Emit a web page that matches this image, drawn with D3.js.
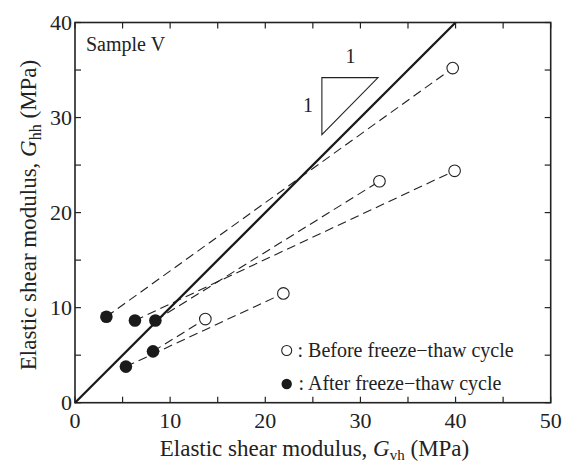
<!DOCTYPE html>
<html>
<head>
<meta charset="utf-8">
<script src="https://cdn.jsdelivr.net/npm/d3@7"></script>
<style>
  html, body { margin: 0; padding: 0; background: #fff; }
  svg { display: block; font-family: "Liberation Serif", "Times New Roman", serif; }
</style>
</head>
<body>
<svg id="chart" width="563" height="462"></svg>
<script>
// ---- data ----
const xTicks = [0, 10, 20, 30, 40, 50];
const yTicks = [0, 10, 20, 30, 40];
const minorStep = 5;
// Before freeze-thaw (open circles)
const beforeX = [39.7, 32.0, 39.9, 21.9, 13.7];
const beforeY = [35.2, 23.3, 24.4, 11.5, 8.8];
// After freeze-thaw (filled circles), paired by index with "before"
const afterX = [3.3, 8.45, 6.3, 5.35, 8.2];
const afterY = [9.05, 8.65, 8.65, 3.8, 5.4];
// 1:1 line
const refX = [0, 40];
const refY = [0, 40];
// slope triangle
const triX = [25.95, 31.85, 25.95];
const triY = [34.2, 34.2, 28.2];
const legendLabels = [": Before freeze\u2212thaw cycle", ": After freeze\u2212thaw cycle"];

// ---- layout ----
const svg = d3.select("#chart");
const x = d3.scaleLinear().domain([0, 50]).range([75, 550.7]);
const y = d3.scaleLinear().domain([0, 40]).range([402.7, 22.5]);
const [x0, x1] = x.range();
const [y0, y1] = y.range();

const minorX = d3.range(0, 50 + 0.001, minorStep);
const minorY = d3.range(0, 40 + 0.001, minorStep);
const tickLen = 6;

// ticks (inward) on all 4 sides
const g = svg.append("g").attr("stroke", "#222").attr("stroke-width", 1.2);
minorX.forEach(v => {
  g.append("line").attr("x1", x(v)).attr("x2", x(v)).attr("y1", y0).attr("y2", y0 - tickLen);
  g.append("line").attr("x1", x(v)).attr("x2", x(v)).attr("y1", y1).attr("y2", y1 + tickLen);
});
minorY.forEach(v => {
  g.append("line").attr("y1", y(v)).attr("y2", y(v)).attr("x1", x0).attr("x2", x0 + tickLen);
  g.append("line").attr("y1", y(v)).attr("y2", y(v)).attr("x1", x1).attr("x2", x1 - tickLen);
});

// frame
svg.append("rect").attr("x", x0).attr("y", y1).attr("width", x1 - x0).attr("height", y0 - y1)
  .attr("fill", "none").attr("stroke", "#222").attr("stroke-width", 1.6);

// tick labels
svg.append("g").selectAll("text").data(xTicks).join("text")
  .attr("x", d => x(d)).attr("y", 428).attr("text-anchor", "middle")
  .attr("font-size", 22).attr("fill", "#222").text(d => d);
svg.append("g").selectAll("text").data(yTicks).join("text")
  .attr("x", x0 - 3).attr("y", d => y(d)).attr("dy", "0.35em").attr("text-anchor", "end")
  .attr("font-size", 22).attr("fill", "#222").text(d => d);

// axis titles
const xt = svg.append("text").attr("x", 314.5).attr("y", 456).attr("text-anchor", "middle")
  .attr("font-size", 23).attr("fill", "#222");
xt.append("tspan").text("Elastic shear modulus, ");
xt.append("tspan").attr("font-style", "italic").text("G");
xt.append("tspan").attr("font-size", 15).attr("dy", 4).text("vh");
xt.append("tspan").attr("dy", -4).text(" (MPa)");

const yt = svg.append("text").attr("transform", "translate(35.5,215) rotate(-90)")
  .attr("text-anchor", "middle").attr("font-size", 23).attr("fill", "#222");
yt.append("tspan").text("Elastic shear modulus, ");
yt.append("tspan").attr("font-style", "italic").text("G");
yt.append("tspan").attr("font-size", 16).attr("dy", 5).text("hh");
yt.append("tspan").attr("dy", -5).text(" (MPa)");

// Sample label
svg.append("text").attr("x", 86).attr("y", 50.5).attr("font-size", 20).attr("fill", "#222").text("Sample V");

// plot contents
const plot = svg.append("g");
const line = d3.line().x(d => x(d[0])).y(d => y(d[1]));

// dashed connecting lines
const pairs = afterX.map((ax, i) => [[ax, afterY[i]], [beforeX[i], beforeY[i]]]);
plot.selectAll("path.dash").data(pairs).join("path").attr("class", "dash")
  .attr("d", line).attr("fill", "none").attr("stroke", "#222").attr("stroke-width", 1.1)
  .attr("stroke-dasharray", "9,5");

// 1:1 line
plot.append("path").attr("d", line(refX.map((v, i) => [v, refY[i]])))
  .attr("fill", "none").attr("stroke", "#1a1a1a").attr("stroke-width", 2.3);

// triangle
plot.append("path").attr("d", line(triX.map((v, i) => [v, triY[i]])) + "Z")
  .attr("fill", "none").attr("stroke", "#222").attr("stroke-width", 1.1);
svg.append("text").attr("x", x((triX[0] + triX[1]) / 2) + 0.5).attr("y", 63).attr("text-anchor", "middle")
  .attr("font-size", 20).attr("fill", "#222").text("1");
svg.append("text").attr("x", x(triX[0]) - 14).attr("y", 111.5).attr("text-anchor", "middle")
  .attr("font-size", 20).attr("fill", "#222").text("1");

// markers
plot.selectAll("circle.before").data(beforeX).join("circle").attr("class", "before")
  .attr("cx", d => x(d)).attr("cy", (d, i) => y(beforeY[i])).attr("r", 5.8)
  .attr("fill", "#fff").attr("stroke", "#222").attr("stroke-width", 1.1);
plot.selectAll("circle.after").data(afterX).join("circle").attr("class", "after")
  .attr("cx", d => x(d)).attr("cy", (d, i) => y(afterY[i])).attr("r", 6.3)
  .attr("fill", "#1a1a1a");

// legend
const leg = svg.append("g");
leg.append("circle").attr("cx", 286.7).attr("cy", 350.5).attr("r", 5)
  .attr("fill", "#fff").attr("stroke", "#222").attr("stroke-width", 1.1);
leg.append("circle").attr("cx", 286.7).attr("cy", 384).attr("r", 5.2).attr("fill", "#1a1a1a");
leg.append("text").attr("x", 297.5).attr("y", 356.7).attr("font-size", 20).attr("fill", "#222").text(legendLabels[0]);
leg.append("text").attr("x", 298.5).attr("y", 389.5).attr("font-size", 20).attr("fill", "#222").text(legendLabels[1]);
</script>
</body>
</html>
